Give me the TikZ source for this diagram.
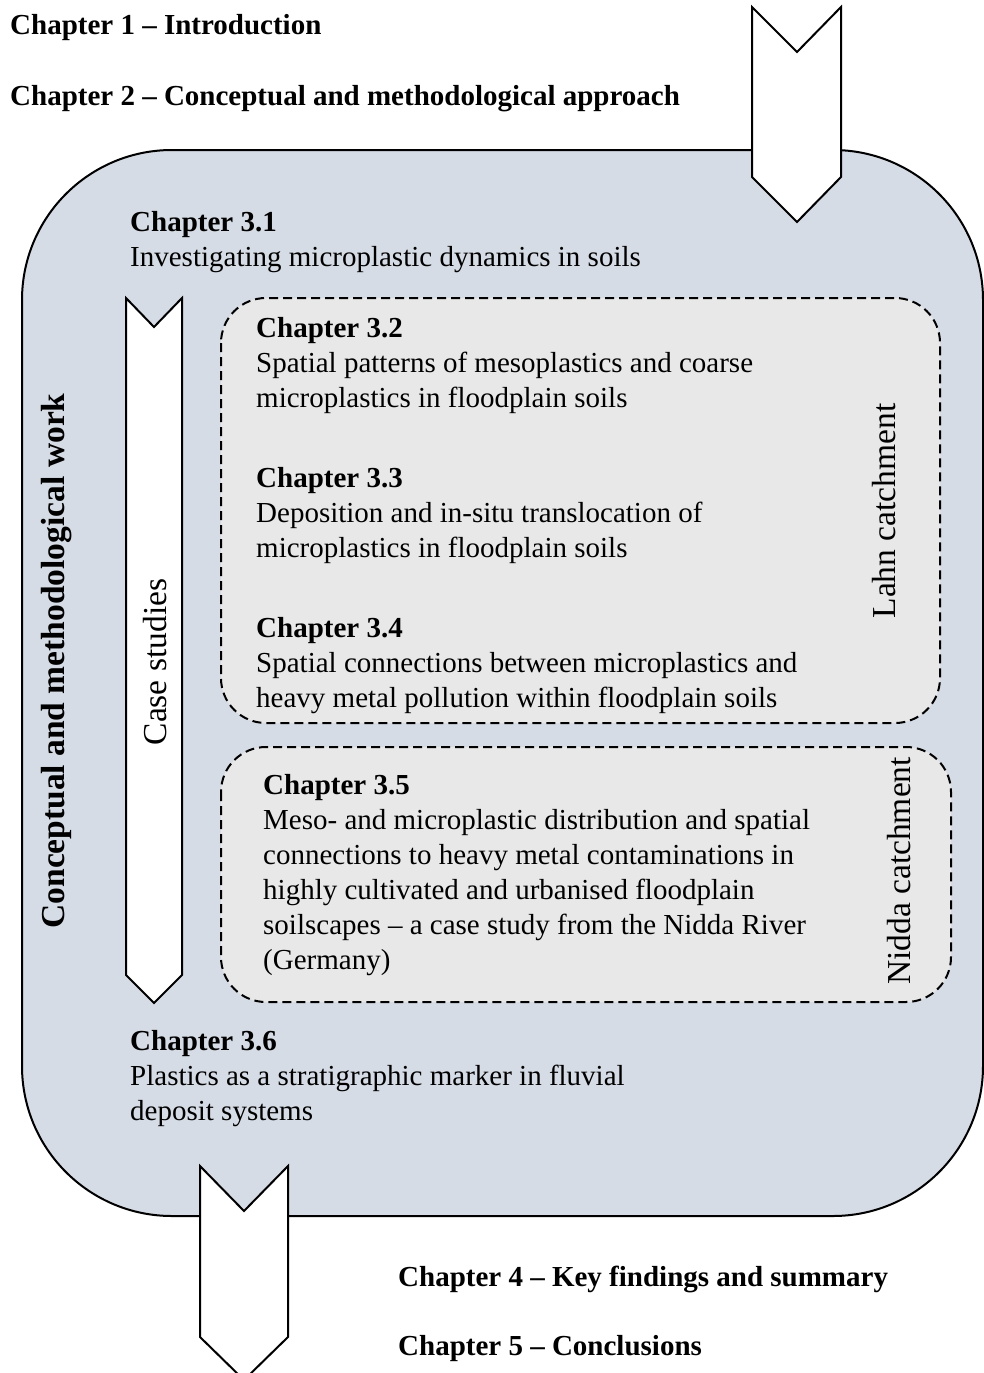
\documentclass[tikz,border=0pt]{standalone}
\usepackage{fontspec}
\setmainfont{Liberation Serif}
\begin{document}
\begin{tikzpicture}[x=1pt,y=-1pt,
  outer/.style={draw=black,line width=2pt,fill=blueback},
  dbox/.style={draw=black,line width=2pt,dash pattern=on 9pt off 5pt,fill=grayback,rounded corners=45pt},
  chev/.style={draw=black,line width=2pt,fill=white,line join=miter},
  txt/.style={anchor=base west,inner sep=0pt,font=\fontsize{29}{35}\selectfont},
  head/.style={anchor=base west,inner sep=0pt,font=\fontsize{29}{34}\selectfont\bfseries},
  side/.style={inner sep=0pt,rotate=90,font=\fontsize{33.5}{38}\selectfont}]
\definecolor{blueback}{HTML}{D6DCE5}
\definecolor{grayback}{HTML}{E8E8E8}
\useasboundingbox (0,0) rectangle (983,1373);
% main container
\draw[outer,rounded corners=150pt] (22,150) rectangle (983,1216);
% dashed boxes
\draw[dbox] (221,298) rectangle (940,723);
\draw[dbox] (221,747) rectangle (951,1002);
% chevrons
\draw[chev] (752,7) -- (797,52) -- (841,7) -- (841,177) -- (797,222) -- (752,177) -- cycle;
\draw[chev] (126,298) -- (154,327) -- (182,298) -- (182,975) -- (154,1003) -- (126,975) -- cycle;
\draw[chev] (200,1166) -- (244,1211) -- (288,1166) -- (288,1337) -- (244,1380) -- (200,1337) -- cycle;
% headings
\node[head] (c1) at (10,34) {Chapter 1 -- Introduction};
\node[head] (c2) at (10,105) {Chapter 2 -- Conceptual and methodological approach};
\node[head] (c4) at (398,1286) {Chapter 4 -- Key findings and summary};
\node[head] (c5) at (398,1355) {Chapter 5 -- Conclusions};
% chapter texts
\node[txt] (c31) at (130,231) {\begin{tabular}[t]{@{}l@{}}\textbf{Chapter 3.1}\\Investigating microplastic dynamics in soils\end{tabular}};
\node[txt] (c32) at (256,337) {\begin{tabular}[t]{@{}l@{}}\textbf{Chapter 3.2}\\Spatial patterns of mesoplastics and coarse\\microplastics in floodplain soils\end{tabular}};
\node[txt] (c33) at (256,487) {\begin{tabular}[t]{@{}l@{}}\textbf{Chapter 3.3}\\Deposition and in-situ translocation of\\microplastics in floodplain soils\end{tabular}};
\node[txt] (c34) at (256,637) {\begin{tabular}[t]{@{}l@{}}\textbf{Chapter 3.4}\\Spatial connections between microplastics and\\heavy metal pollution within floodplain soils\end{tabular}};
\node[txt] (c35) at (263,794) {\begin{tabular}[t]{@{}l@{}}\textbf{Chapter 3.5}\\Meso- and microplastic distribution and spatial\\connections to heavy metal contaminations in\\highly cultivated and urbanised floodplain\\soilscapes -- a case study from the Nidda River\\(Germany)\end{tabular}};
\node[txt] (c36) at (130,1050) {\begin{tabular}[t]{@{}l@{}}\textbf{Chapter 3.6}\\Plastics as a stratigraphic marker in fluvial\\deposit systems\end{tabular}};
% side labels
\node[side,font=\fontsize{33.5}{38}\selectfont\bfseries] (cmw) at (57,661) {Conceptual and methodological work};
\node[side] (cs) at (155,662) {Case studies};
\node[side] (lahn) at (884,511) {Lahn catchment};
\node[side] (nidda) at (899,871) {Nidda catchment};
\end{tikzpicture}
\end{document}
